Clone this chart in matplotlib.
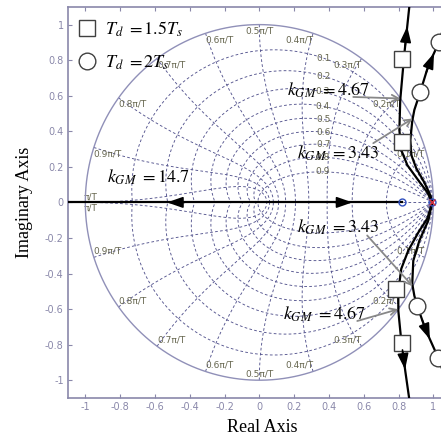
import numpy as np
import matplotlib
matplotlib.use('Agg')
import matplotlib.pyplot as plt
from matplotlib.lines import Line2D

plt.rcParams['mathtext.fontset'] = 'stix'

# ---------------- data ----------------
tick_vals = [-1, -0.8, -0.6, -0.4, -0.2, 0, 0.2, 0.4, 0.6, 0.8, 1]
tick_labels = ['-1', '-0.8', '-0.6', '-0.4', '-0.2', '0', '0.2', '0.4', '0.6', '0.8', '1']

zetas = [0.1, 0.2, 0.3, 0.4, 0.5, 0.6, 0.7, 0.8, 0.9]
wn_fracs = [0.1, 0.2, 0.3, 0.4, 0.5, 0.6, 0.7, 0.8, 0.9, 1.0]
wn_labels = ['0.1\u03c0/T', '0.2\u03c0/T', '0.3\u03c0/T', '0.4\u03c0/T', '0.5\u03c0/T',
             '0.6\u03c0/T', '0.7\u03c0/T', '0.8\u03c0/T', '0.9\u03c0/T', '\u03c0/T']

# real-axis branch
real_x = [-1.15, 0.82]
real_y = [0.0, 0.0]

# T_d = 1.5 Ts branches (square)
sq_up_x = [0.994, 0.966, 0.914, 0.851, 0.816, 0.805, 0.810, 0.833, 0.862, 0.868]
sq_up_y = [0.0, 0.056, 0.124, 0.209, 0.294, 0.407, 0.576, 0.83, 1.10, 1.16]
sq_lo_x = [0.994, 0.966, 0.914, 0.856, 0.816, 0.799, 0.799, 0.816, 0.839, 0.862, 0.868]
sq_lo_y = [0.0, -0.090, -0.169, -0.271, -0.373, -0.497, -0.610, -0.780, -0.949, -1.107, -1.175]

# T_d = 2 Ts branches (circle)
ci_up_x = [0.994, 0.983, 0.948, 0.902, 0.874, 0.868, 0.879, 0.891, 0.925, 0.971, 1.034, 1.109]
ci_up_y = [0.0, 0.040, 0.113, 0.192, 0.266, 0.350, 0.458, 0.520, 0.621, 0.768, 0.904, 1.141]
ci_lo_x = [0.994, 0.971, 0.920, 0.885, 0.879, 0.891, 0.908, 0.954, 1.029, 1.086, 1.132]
ci_lo_y = [0.0, -0.102, -0.215, -0.328, -0.458, -0.525, -0.582, -0.712, -0.876, -1.034, -1.175]

sq_mark_x = [0.822, 0.822, 0.787, 0.822]
sq_mark_y = [0.808, 0.339, -0.486, -0.791]
ci_mark_x = [1.034, 0.925, 0.908, 1.029]
ci_mark_y = [0.904, 0.621, -0.582, -0.876]

zero_x, zero_y = [0.82], [0.0]
pole_x, pole_y = [0.995], [0.0]

gm_labels = ['14.7', '4.67', '3.43', '3.43', '4.67']

# ---------------- figure ----------------
fig = plt.figure(figsize=(4.41, 4.40), dpi=100)
ax = fig.add_axes([0.154, 0.0955, 0.868, 0.889])
ax.set_xlim(-1.1, 1.1)
ax.set_ylim(-1.1, 1.1)

grid_color = '#55558f'
lab_color = '#66664f'
ls = (0, (3, 2.5))
# damping spirals
for zt in zetas:
    w = np.linspace(0, np.pi / np.sqrt(1 - zt ** 2), 300)
    z = np.exp(w * (-zt + 1j * np.sqrt(1 - zt ** 2)))
    ax.plot(z.real, z.imag, color=grid_color, lw=0.65, ls=ls, zorder=1)
    ax.plot(z.real, -z.imag, color=grid_color, lw=0.65, ls=ls, zorder=1)
    idx = np.argmax(z.real <= 0.37)
    ax.text(z.real[idx], z.imag[idx], f'{zt:.1f}', fontsize=6.5, color=lab_color,
            ha='center', va='center', zorder=2)
ax.plot([0, 1], [0, 0], color=grid_color, lw=0.65, ls=ls, zorder=1)
# natural-frequency curves
zz = np.linspace(0, 1, 200)
for f, lab in zip(wn_fracs, wn_labels):
    z = np.exp(f * np.pi * (-zz + 1j * np.sqrt(1 - zz ** 2)))
    ax.plot(z.real, z.imag, color=grid_color, lw=0.65, ls=ls, zorder=1)
    ax.plot(z.real, -z.imag, color=grid_color, lw=0.65, ls=ls, zorder=1)
    th = f * np.pi
    px, py = np.cos(th), np.sin(th)
    if f < 0.5:
        ha = 'right'
    elif f == 0.5:
        ha = 'center'
    else:
        ha = 'left'
    if f == 1.0:
        px = -1.01
        ax.text(px, 0.005, lab, fontsize=6.5, color=lab_color, ha='left', va='bottom', zorder=2)
        ax.text(px, -0.005, lab, fontsize=6.5, color=lab_color, ha='left', va='top', zorder=2)
    else:
        ax.text(px, py - 0.01, lab, fontsize=6.5, color=lab_color, ha=ha, va='top', zorder=2)
        ax.text(px, -py + 0.01, lab, fontsize=6.5, color=lab_color, ha=ha, va='bottom', zorder=2)
# unit circle
t = np.linspace(0, 2 * np.pi, 400)
ax.plot(np.cos(t), np.sin(t), color='#9090b8', lw=1.0, zorder=2)

# ---------------- loci ----------------
lw = 1.6
ax.plot(real_x, real_y, color='k', lw=lw, zorder=5)
ax.plot(sq_up_x, sq_up_y, color='k', lw=lw, zorder=5)
ax.plot(sq_lo_x, sq_lo_y, color='k', lw=lw, zorder=5)
ax.plot(ci_up_x, ci_up_y, color='k', lw=lw, zorder=5)
ax.plot(ci_lo_x, ci_lo_y, color='k', lw=lw, zorder=5)

ax.plot(zero_x, zero_y, 'o', ms=5, mfc='none', mec='#3050c0', mew=1.0, zorder=6)
ax.plot(pole_x, pole_y, 'o', ms=5, mfc='none', mec='#3050c0', mew=1.0, zorder=6)
ax.plot(pole_x, pole_y, 'x', ms=4, mec='#d03040', mew=1.0, zorder=7)

ax.plot(sq_mark_x, sq_mark_y, 's', ms=11, mfc='white', mec='#404040', mew=1.0, ls='none', zorder=8)
ax.plot(ci_mark_x, ci_mark_y, 'o', ms=12, mfc='white', mec='#404040', mew=1.0, ls='none', zorder=8)

arrow_kw = dict(arrowstyle='-|>,head_length=0.8,head_width=0.28', color='k',
                mutation_scale=12, lw=1.2, shrinkA=0, shrinkB=0)


def branch_pt(bx, by, yv):
    bx = np.asarray(bx); by = np.asarray(by)
    if by[-1] < by[0]:
        bx = bx[::-1]; by = by[::-1]
    return float(np.interp(yv, by, bx)), yv


for bx, by, yt, yh in [(sq_up_x, sq_up_y, 0.88, 0.99), (ci_up_x, ci_up_y, 0.73, 0.84),
                       (sq_lo_x, sq_lo_y, -0.83, -0.94), (ci_lo_x, ci_lo_y, -0.66, -0.77)]:
    ax.annotate('', xy=branch_pt(bx, by, yh), xytext=branch_pt(bx, by, yt),
                arrowprops=arrow_kw, zorder=9)
ax.annotate('', xy=(-0.53, 0), xytext=(-0.43, 0), arrowprops=arrow_kw, zorder=9)
ax.annotate('', xy=(0.535, 0), xytext=(0.435, 0), arrowprops=arrow_kw, zorder=9)


def crossing(bx, by):
    bx = np.asarray(bx); by = np.asarray(by)
    r = np.hypot(bx, by)
    i = np.argmax(r >= 1.0)
    a = (1.0 - r[i - 1]) / (r[i] - r[i - 1])
    return bx[i - 1] + a * (bx[i] - bx[i - 1]), by[i - 1] + a * (by[i] - by[i - 1])


gm_text_pos = [(-0.874, 0.141), (0.161, 0.633), (0.218, 0.277), (0.218, -0.141), (0.138, -0.627)]
gm_arrow_from = [None, (0.54, 0.593), (0.655, 0.333), (0.62, -0.186), (0.563, -0.667)]
gm_targets = [None, crossing(sq_up_x, sq_up_y), crossing(ci_up_x, ci_up_y),
              crossing(ci_lo_x, ci_lo_y), crossing(sq_lo_x, sq_lo_y)]
for lab, pos, src, tgt in zip(gm_labels, gm_text_pos, gm_arrow_from, gm_targets):
    ax.text(pos[0], pos[1], r'$k_{GM}\ = ' + lab + '$', fontsize=13, ha='left', va='center',
            color='k', zorder=10)
    if src is not None:
        ax.annotate('', xy=tgt, xytext=src,
                    arrowprops=dict(arrowstyle='->', color='#888888', lw=1.3,
                                    mutation_scale=12, shrinkA=0, shrinkB=0), zorder=9)

# legend
handles = [Line2D([], [], marker='s', ms=11, mfc='white', mec='#404040', ls='none'),
           Line2D([], [], marker='o', ms=12, mfc='white', mec='#404040', ls='none')]
ax.legend(handles, [r'$T_d\ =1.5T_s$', r'$T_d\ =2T_s$'], loc='upper left',
          bbox_to_anchor=(-0.008, 1.0), frameon=False, fontsize=13, handlelength=1.0,
          handletextpad=0.5, labelspacing=0.8, borderaxespad=0.3)

# axes styling
axis_col = '#8a88aa'
ax.set_xticks(tick_vals)
ax.set_xticklabels(tick_labels)
ax.set_yticks(tick_vals)
ax.set_yticklabels(tick_labels)
ax.tick_params(direction='in', top=True, right=True, length=3, width=0.8, colors=axis_col,
               labelsize=7, pad=3)
for s in ax.spines.values():
    s.set_color(axis_col)
    s.set_linewidth(1.2)

ax.set_xlabel('Real Axis', fontfamily='Liberation Serif', fontsize=13)
ax.set_ylabel('Imaginary Axis', fontfamily='Liberation Serif', fontsize=13)
ax.xaxis.set_label_coords(0.508, -0.055)
ax.yaxis.set_label_coords(-0.091, 0.5)

fig.savefig('out.png', dpi=100)
